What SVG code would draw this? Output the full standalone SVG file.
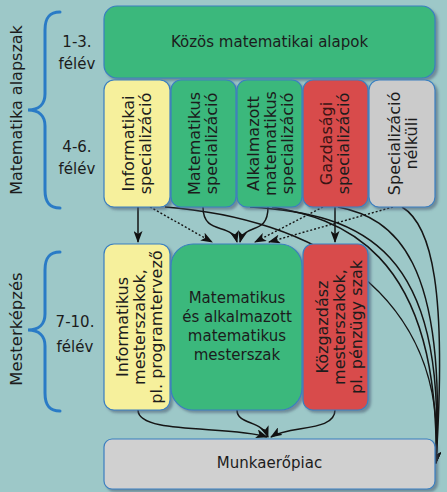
<svg xmlns="http://www.w3.org/2000/svg" width="447" height="492" viewBox="0 0 447 492">
<defs>
<filter id="sh" x="-10%" y="-10%" width="130%" height="130%">
<feDropShadow dx="2.5" dy="2.5" stdDeviation="1" flood-color="#4a5870" flood-opacity="0.55"/>
</filter>
<marker id="ah" markerWidth="12" markerHeight="9" refX="11" refY="4.5" orient="auto" markerUnits="userSpaceOnUse">
<path d="M0,0 L12,4.5 L0,9 L3,4.5 z" fill="#111"/>
</marker>
</defs>
<style>
text{font-family:"DejaVu Sans","Noto Sans",sans-serif;fill:#1c1c1c;}
.h{font-size:15px;text-anchor:middle;}
.v{font-size:16px;text-anchor:middle;}
.lab{font-size:15px;text-anchor:middle;}
.box{stroke:#3a7fc0;stroke-width:1.2;filter:url(#sh);}
.g{fill:#3bb87b;}
.y{fill:#f6f09c;}
.r{fill:#d84c4c;}
.gr{fill:#cbcbcb;}
.c{fill:none;stroke:#151515;stroke-width:1.5;marker-end:url(#ah);}
.d{fill:none;stroke:#151515;stroke-width:1.4;stroke-dasharray:2 2;marker-end:url(#ah);}
.br{fill:none;stroke:#2a7bc6;stroke-width:3;stroke-linecap:round;}
</style>
<rect width="447" height="492" fill="#9dc8c8"/>

<g id="labels">
<path class="br" d="M60,12 C49,12 45,18 45,30 L45,94 C45,104 39,110 28,110 C39,110 45,116 45,126 L45,190 C45,202 49,208 60,208"/>
<path class="br" d="M60,252 C49,252 45,258 45,270 L45,314 C45,324 39,330 28,330 C39,330 45,336 45,346 L45,393 C45,405 49,411 60,411"/>
<text transform="translate(22,110) rotate(-90)" class="v">Matematika alapszak</text>
<text transform="translate(22,329) rotate(-90)" class="v" style="font-size:16.5px">Mesterképzés</text>
<text x="77" y="47" class="lab">1-3.</text>
<text x="77" y="69" class="lab">félév</text>
<text x="77" y="152" class="lab">4-6.</text>
<text x="77" y="174" class="lab">félév</text>
<text x="75" y="327" class="lab">7-10.</text>
<text x="75" y="352" class="lab">félév</text>
</g>

<g id="connectors">
<path class="c" d="M165,207 C310,218 448,290 436,463"/>
<path class="c" d="M250,207 C365,214 446,250 436,463"/>
<path class="c" d="M272,207 C335,218 440,245 436,463"/>
<path class="c" d="M338,207 C395,218 447,260 436,463"/>
<path class="c" d="M402,207 C432,225 447,290 436,463"/>
<path class="c" d="M138,207 L138,242"/>
<path class="c" d="M335,207 L335,242"/>
<path class="c" d="M203,207 C203,236 232,222 237,242"/>
<path class="c" d="M268,207 C268,236 245,222 240,242"/>
<path class="d" d="M150,207 L212,242"/>
<path class="d" d="M323,207 L255,242"/>
<path class="d" d="M393,207 L269,242"/>
<path class="c" d="M138,410 C138,435 230,425 267,437"/>
<path class="c" d="M237,410 C237,425 262,420 268,437"/>
<path class="c" d="M335,410 C335,432 290,425 271,437"/>
</g>

<g id="kozos">
<rect class="box g" x="104" y="6" width="331" height="72" rx="13"/>
<text x="269.5" y="47" class="h">Közös matematikai alapok</text>
</g>
<g id="spec-info">
<rect class="box y" x="104" y="80" width="66" height="127" rx="10"/>
<text transform="translate(137,143.5) rotate(-90)" class="v"><tspan x="0" y="-3">Informatikai</tspan><tspan x="0" y="14">specializáció</tspan></text>
</g>
<g id="spec-mat">
<rect class="box g" x="171" y="80" width="65" height="127" rx="10"/>
<text transform="translate(203.5,143.5) rotate(-90)" class="v"><tspan x="0" y="-3.5">Matematikus</tspan><tspan x="0" y="13.5">specializáció</tspan></text>
</g>
<g id="spec-alk">
<rect class="box g" x="237" y="80" width="65" height="127" rx="10"/>
<text transform="translate(269.5,143.5) rotate(-90)" class="v"><tspan x="0" y="-11">Alkalmazott</tspan><tspan x="0" y="6">matematikus</tspan><tspan x="0" y="23">specializáció</tspan></text>
</g>
<g id="spec-gazd">
<rect class="box r" x="303" y="80" width="65" height="127" rx="10"/>
<text transform="translate(335.5,143.5) rotate(-90)" class="v"><tspan x="0" y="-3.5" style="fill:#3a1414">Gazdasági</tspan><tspan x="0" y="13.5">specializáció</tspan></text>
</g>
<g id="spec-nelkul">
<rect class="box gr" x="369" y="80" width="66" height="127" rx="10"/>
<text transform="translate(402,143.5) rotate(-90)" class="v"><tspan x="0" y="-2">Specializáció</tspan><tspan x="0" y="15">nélküli</tspan></text>
</g>

<g id="ms-info">
<rect class="box y" x="104" y="244" width="66" height="166" rx="10"/>
<text transform="translate(137.5,327) rotate(-90)" class="v"><tspan x="0" y="-9.5">Informatikus</tspan><tspan x="0" y="7.5">mesterszakok,</tspan><tspan x="0" y="24.5">pl. programtervező</tspan></text>
</g>
<g id="ms-mat">
<rect class="box g" x="171" y="244" width="131" height="166" rx="22"/>
<text x="237" y="303" class="h">Matematikus</text>
<text x="237" y="322" class="h">és alkalmazott</text>
<text x="237" y="341" class="h">matematikus</text>
<text x="237" y="360" class="h">mesterszak</text>
</g>
<g id="ms-kozg">
<rect class="box r" x="303" y="244" width="65" height="166" rx="10"/>
<text transform="translate(335.5,327) rotate(-90)" class="v"><tspan x="0" y="-8">Közgazdász</tspan><tspan x="0" y="9">mesterszakok,</tspan><tspan x="0" y="26">pl. pénzügy szak</tspan></text>
</g>

<g id="munka">
<rect class="box gr" x="104" y="439" width="331" height="50" rx="8" style="fill:#d0d0d0"/>
<text x="269.5" y="468" class="h">Munkaerőpiac</text>
</g>
</svg>
